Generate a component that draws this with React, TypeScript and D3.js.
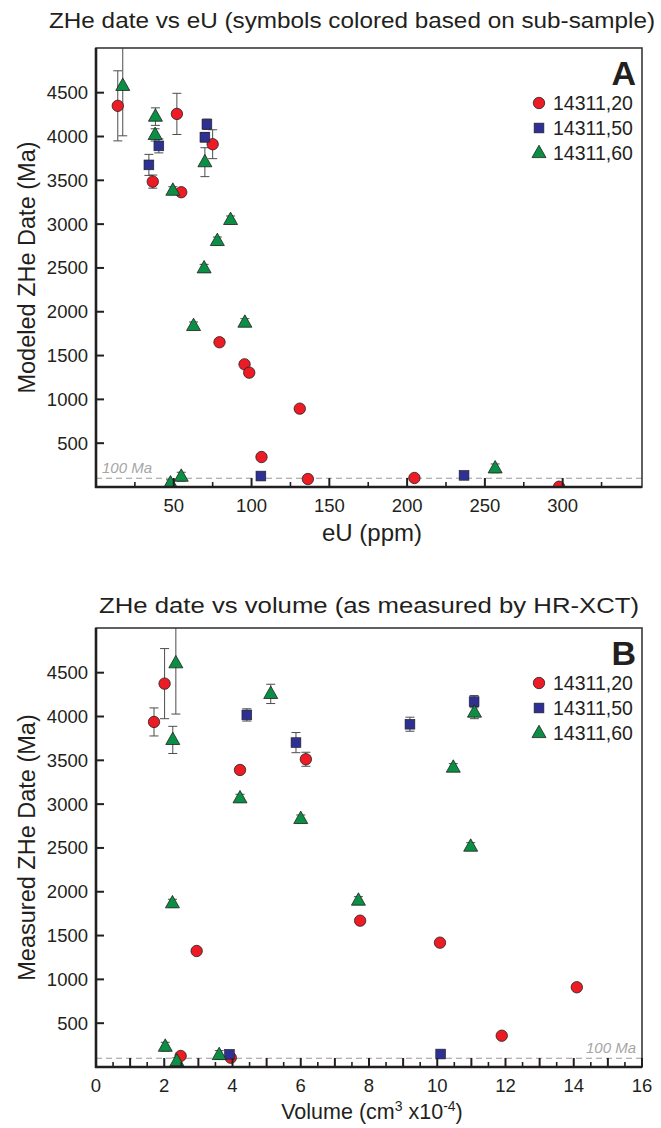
import * as d3 from 'd3';

const groups = ['14311,20', '14311,50', '14311,60'];
const colors = ['#ed1c24', '#2e3192', '#0a8f45'];

// Panel A: eU (ppm), modeled ZHe date (Ma), error (Ma)
const euRed = [14, 36.5, 52, 54.8, 75, 79.4, 95.5, 98.5, 106.4, 131, 136.2, 204.7, 297.7];
const dateARed = [4350, 3485, 4258, 3364, 3912, 1652, 1400, 1305, 342, 894, 91, 103, 3];
const errARed = [400, 75, 235, 30, 165, 30, 30, 30, 25, 25, 20, 20, 10];

const euBlue = [34, 40.4, 70, 71.3, 106, 236.6];
const dateABlue = [3676, 3893, 3992, 4140, 125, 133];
const errABlue = [120, 80, 55, 60, 15, 15];

const euGreen = [17.2, 38.2, 38, 49.4, 70, 86.5, 78, 69.5, 62.7, 95.7, 54.8, 47.9, 256.6];
const dateAGreen = [4578, 4227, 4018, 3382, 3707, 3048, 2808, 2496, 1838, 1876, 118, 42, 213];
const errAGreen = [570, 100, 70, 45, 165, 45, 45, 45, 45, 45, 50, 40, 50];

// Panel B: volume (cm3 x10^-4), measured ZHe date (Ma), error (Ma)
const volRed = [2.01, 1.7, 4.22, 6.15, 7.74, 2.95, 10.08, 14.09, 11.89, 2.48, 3.95];
const dateBRed = [4375, 3938, 3390, 3512, 1670, 1324, 1419, 910, 357, 126, 106];
const errBRed = [400, 160, 30, 80, 30, 30, 30, 25, 25, 20, 20];

const volBlue = [4.42, 5.86, 9.2, 11.08, 3.91, 10.1];
const dateBBlue = [4018, 3702, 3912, 4170, 145, 148];
const errBBlue = [70, 115, 80, 70, 15, 15];

const volGreen = [2.34, 2.25, 5.12, 4.22, 6.0, 10.47, 10.98, 11.09, 2.24, 7.69, 2.03, 2.37, 3.61];
const dateBGreen = [4608, 3733, 4258, 3067, 2831, 3417, 2515, 4045, 1869, 1899, 232, 65, 137];
const errBGreen = [580, 155, 110, 45, 45, 45, 45, 70, 45, 45, 50, 40, 50];

const yTicks = [500, 1000, 1500, 2000, 2500, 3000, 3500, 4000, 4500];
const xTicksA = [50, 100, 150, 200, 250, 300];
const xMinorA = d3.range(25, 350, 25);
const xTicksB = [0, 2, 4, 6, 8, 10, 12, 14, 16];
const xMinorB = d3.range(0.5, 16, 0.5);
const refAge = 100;

const FONT = '"Liberation Sans", Arial, sans-serif';
const INK = '#231f20';

function Marker({ kind, x, y, fill }) {
  if (kind === 0) return <circle cx={x} cy={y} r={5.7} fill={fill} stroke={INK} strokeWidth={0.8} />;
  if (kind === 1) return <rect x={x - 4.9} y={y - 4.9} width={9.8} height={9.8} fill={fill} stroke={INK} strokeWidth={0.6} />;
  return <path d={`M${x},${y - 7.8}L${x + 7},${y + 4.6}L${x - 7},${y + 4.6}Z`} fill={fill} stroke={INK} strokeWidth={0.8} />;
}

function Panel(props) {
  const { id, top, xDomain, series, majorX, minorX, title, xLabel, yLabel, letter, refLeft, titleY } = props;
  const left = 96, right = 642, bottom = top + 439;
  const x = d3.scaleLinear().domain(xDomain).range([left, right]);
  const y = d3.scaleLinear().domain([0, 5010]).range([bottom, top]);
  const minorSet = minorX.filter(v => !majorX.includes(v));

  return (
    <g fontFamily={FONT}>
      <text x={props.titleX} y={titleY} textAnchor="middle" fontSize={22} fill={INK}
        textLength={props.titleLen} lengthAdjust="spacingAndGlyphs">{title}</text>
      <defs>
        <clipPath id={`clip-${id}`}>
          <rect x={left} y={top} width={right - left} height={bottom - top} />
        </clipPath>
      </defs>
      <g clipPath={`url(#clip-${id})`}>
        <line x1={left} x2={right} y1={y(refAge)} y2={y(refAge)} stroke="#9a9a9a" strokeWidth={1} strokeDasharray="6,4" />
        {series.map((s, gi) => s.x.map((xv, i) => {
          const cx = x(xv), lo = y(s.d[i] - s.e[i]), hi = y(s.d[i] + s.e[i]);
          return (
            <g key={`e${gi}-${i}`} stroke="#4d4d4d" strokeWidth={1}>
              <line x1={cx} x2={cx} y1={lo} y2={hi} />
              <line x1={cx - 4.5} x2={cx + 4.5} y1={lo} y2={lo} />
              <line x1={cx - 4.5} x2={cx + 4.5} y1={hi} y2={hi} />
            </g>
          );
        }))}
        {series.map((s, gi) => s.x.map((xv, i) => (
          <Marker key={`m${gi}-${i}`} kind={gi} x={x(xv)} y={y(s.d[i])} fill={colors[gi]} />
        )))}
      </g>
      <text x={refLeft ? left + 6 : right - 6} y={y(refAge) - 5} textAnchor={refLeft ? 'start' : 'end'}
        fontSize={15} fontStyle="italic" fill="#a6a6a6">{refAge} Ma</text>

      {/* frame */}
      <rect x={left} y={top} width={right - left} height={bottom - top} fill="none" stroke="#3a3a3a" strokeWidth={1.6} />
      <line x1={left} x2={left} y1={top} y2={bottom + 1} stroke={INK} strokeWidth={2.6} />
      <line x1={left - 1} x2={right} y1={bottom} y2={bottom} stroke={INK} strokeWidth={2.6} />

      {yTicks.map(t => (
        <g key={`y${t}`}>
          <line x1={left} x2={left + 8} y1={y(t)} y2={y(t)} stroke={INK} strokeWidth={2} />
          <text x={left - 8} y={y(t) + 6.5} textAnchor="end" fontSize={18.5} fill={INK}>{t}</text>
        </g>
      ))}
      {majorX.map(t => (
        <line key={`xm${t}`} x1={x(t)} x2={x(t)} y1={bottom} y2={bottom - 9} stroke={INK} strokeWidth={2} />
      ))}
      {minorSet.map(t => (
        <line key={`xn${t}`} x1={x(t)} x2={x(t)} y1={bottom} y2={bottom - 5} stroke={INK} strokeWidth={1.6} />
      ))}
      {props.labelX.map(t => (
        <text key={`xl${t}`} x={x(t)} y={bottom + 25} textAnchor="middle" fontSize={18.5} fill={INK}>{t}</text>
      ))}
      <text x={372} y={bottom + props.xLabelDy} textAnchor="middle" fontSize={props.xLabelSize} fill={INK}>{xLabel}</text>
      <text transform={`translate(35,${(top + bottom) / 2}) rotate(-90)`} textAnchor="middle" fontSize={23.5} fill={INK}>{yLabel}</text>

      <text x={636} y={top + 37} textAnchor="end" fontSize={34} fontWeight="bold" fill={INK}>{letter}</text>
      {groups.map((g, gi) => (
        <g key={g}>
          <Marker kind={gi} x={539} y={top + 55 + gi * 25} fill={colors[gi]} />
          <text x={553} y={top + 55 + gi * 25 + 6.8} fontSize={19.5} fill={INK}>{g}</text>
        </g>
      ))}
    </g>
  );
}

export default function App() {
  const seriesA = [
    { x: euRed, d: dateARed, e: errARed },
    { x: euBlue, d: dateABlue, e: errABlue },
    { x: euGreen, d: dateAGreen, e: errAGreen },
  ];
  const seriesB = [
    { x: volRed, d: dateBRed, e: errBRed },
    { x: volBlue, d: dateBBlue, e: errBBlue },
    { x: volGreen, d: dateBGreen, e: errBGreen },
  ];
  return (
    <svg width={661} height={1128} style={{ position: 'absolute', left: 0, top: 0, background: '#fff' }}>
      <rect width={661} height={1128} fill="#fff" />
      <Panel id="a" top={48} titleY={28} titleX={352} titleLen={606} xDomain={[0, 351]} series={seriesA}
        majorX={xTicksA} minorX={xMinorA} labelX={xTicksA}
        title="ZHe date vs eU (symbols colored based on sub-sample)"
        xLabel="eU (ppm)" xLabelDy={54} xLabelSize={24} yLabel="Modeled ZHe Date (Ma)" letter="A" refLeft={true} />
      <Panel id="b" top={628} titleY={613} titleX={369} titleLen={540} xDomain={[0, 16]} series={seriesB}
        majorX={d3.range(0, 17, 1)} minorX={xMinorB} labelX={xTicksB}
        title="ZHe date vs volume (as measured by HR-XCT)"
        xLabel={<>Volume (cm<tspan fontSize={14} dy={-8}>3</tspan><tspan dy={8}> x10</tspan><tspan fontSize={14} dy={-8}>-4</tspan><tspan dy={8}>)</tspan></>}
        xLabelDy={52} xLabelSize={21.5} yLabel="Measured ZHe Date (Ma)" letter="B" refLeft={false} />
    </svg>
  );
}
